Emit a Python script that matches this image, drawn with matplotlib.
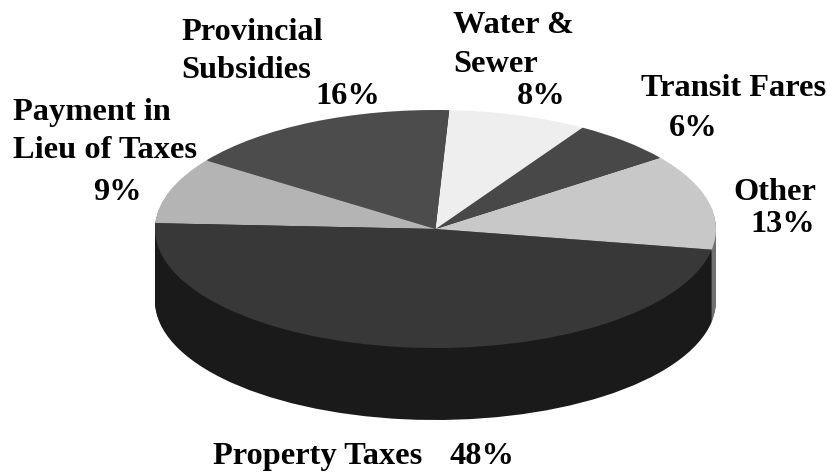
"""Revenue sources as an extruded pie, drawn from stacked ax.pie layers."""

import matplotlib
matplotlib.use("Agg")
import matplotlib.pyplot as plt
import numpy as np

categories = ["Other", "Transit Fares", "Water & Sewer", "Provincial Subsidies",
              "Payment in Lieu of Taxes", "Property Taxes"]
shares = [13, 6, 8, 16, 9, 48]
top_colors = ["#c8c8c8", "#484848", "#eeeeee", "#4c4c4c", "#b4b4b4", "#383838"]
side_colors = ["#707070", "#242424", "#777777", "#262626", "#1a1a1a", "#1a1a1a"]

W, H = 828, 472
cx, cy = 435.5, 229      # pie centre in image pixels
rx, ry = 280.5, 119      # semi axes of the top face
depth = 72
start = -10

fig = plt.figure(figsize=(W / 100, H / 100), dpi=100)
ax = fig.add_axes([0, 0, 1, 1])

# side wall: same pie repeated downwards, deepest first
for d in np.arange(depth, 0, -1):
    ax.pie(shares, colors=side_colors, startangle=start, center=(0, -d / ry),
           wedgeprops={"linewidth": 0.6, "edgecolor": "none"})
ax.pie(shares, colors=top_colors, startangle=start, center=(0, 0),
       wedgeprops={"linewidth": 0})

ax.set_aspect("auto")
ax.set_xlim(-cx / rx, (W - cx) / rx)
ax.set_ylim(-(H - cy) / ry, cy / ry)
ax.axis("off")

font = {"family": ["Liberation Serif", "DejaVu Serif"], "weight": "bold",
        "size": 23.3, "color": "black"}
texts = [
    ("Provincial", 181, 40), ("Subsidies", 181, 78), ("16%", 315, 104),
    ("Water &", 453, 33), ("Sewer", 453, 72), ("8%", 517, 104),
    ("Transit Fares", 641, 96), ("6%", 669, 136),
    ("Other", 733, 200), ("13%", 750, 232),
    ("Payment in", 13, 120), ("Lieu of Taxes", 13, 158), ("9%", 93, 200),
    ("Property Taxes", 213, 464), ("48%", 450, 464),
]
for s, x, y in texts:
    fig.text(x / W, 1 - y / H, s, ha="left", va="baseline", **font)

plt.savefig("out.png", dpi=100)
